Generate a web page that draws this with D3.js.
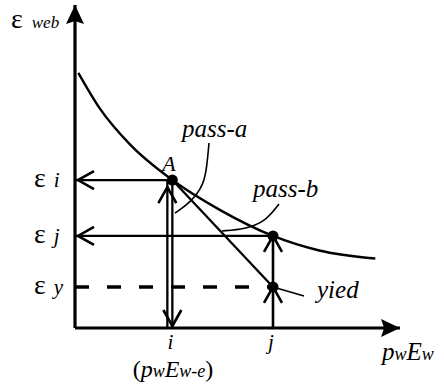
<!DOCTYPE html>
<html>
<head>
<meta charset="utf-8">
<script src="https://cdn.jsdelivr.net/npm/d3@7"></script>
<style>
html, body { margin: 0; padding: 0; background: #fff; }
</style>
</head>
<body>
<div id="chart"></div>
<script>
// curve (epsilon_web vs pwEw) in data units
const curveX = [0.1, 0.75, 1.65, 2.95, 4.4, 6.0, 7.4, 9.1];
const curveY = [7.9, 6.8, 5.7, 4.58, 3.65, 2.85, 2.4, 2.15];

// named points
const pointNames = ["A", "j", "yied"];
const pointX = [2.95, 6.0, 6.0];
const pointY = [4.58, 2.85, 1.27];

// tick labels
const yTickLabels = ["i", "j", "y"];
const yTickValues = [4.58, 2.85, 1.27];
const xTickLabels = ["i", "j"];
const xTickValues = [2.95, 6.0];

const FONT = "Liberation Serif";

const svgWidth = 444;
const svgHeight = 384;

const svg = d3.select("#chart")
  .append("svg")
  .attr("width", svgWidth)
  .attr("height", svgHeight);

svg.append("rect").attr("width", svgWidth).attr("height", svgHeight).attr("fill", "#fff");

// scales
const x = d3.scaleLinear().domain([0, 10]).range([75, 405]);
const y = d3.scaleLinear().domain([0, 10]).range([328, 5]);

const defs = svg.append("defs");

// solid triangle for the axes
defs.append("marker")
  .attr("id", "tri")
  .attr("markerUnits", "userSpaceOnUse")
  .attr("viewBox", "-20 -10 22 20")
  .attr("markerWidth", 22).attr("markerHeight", 20)
  .attr("refX", 0).attr("refY", 0)
  .attr("orient", "auto")
  .append("path")
  .attr("d", "M0,0 L-19,-9 L-16,0 L-19,9 Z")
  .attr("fill", "#000");

// open chevrons, apex set back by `back` px
function chevron(id, back) {
  defs.append("marker")
    .attr("id", id)
    .attr("markerUnits", "userSpaceOnUse")
    .attr("viewBox", "-22 -12 34 24")
    .attr("markerWidth", 34).attr("markerHeight", 24)
    .attr("refX", back).attr("refY", 0)
    .attr("orient", "auto")
    .append("path")
    .attr("d", "M-16,-9 L0,0 L-16,9")
    .attr("fill", "none")
    .attr("stroke", "#000")
    .attr("stroke-width", 2.6);
}
chevron("chevH", 3);
chevron("chevUpA", 7);
chevron("chevDown", 2);
chevron("chevUp", 0);

const line = d3.line().x(d => x(d[0])).y(d => y(d[1]));

const pA = [pointX[0], pointY[0]];
const pJ = [pointX[1], pointY[1]];
const pY = [pointX[2], pointY[2]];

// dashed epsilon_y line
svg.append("path")
  .attr("d", line([[0, pY[1]], pY]))
  .attr("stroke", "#000").attr("stroke-width", 3.5)
  .attr("stroke-dasharray", "14,18")
  .attr("fill", "none");

// horizontal arrows to the y axis
[pA, pJ].forEach(p => {
  svg.append("path")
    .attr("d", line([p, [0, p[1]]]))
    .attr("stroke", "#000").attr("stroke-width", 2.3)
    .attr("fill", "none")
    .attr("marker-end", "url(#chevH)");
});

// double vertical at i
svg.append("line")
  .attr("x1", x(pA[0]) - 5).attr("y1", y(0))
  .attr("x2", x(pA[0]) - 5).attr("y2", y(pA[1]))
  .attr("stroke", "#000").attr("stroke-width", 2.3)
  .attr("marker-end", "url(#chevUpA)");
svg.append("path")
  .attr("d", line([pA, [pA[0], 0]]))
  .attr("stroke", "#000").attr("stroke-width", 2.3)
  .attr("fill", "none")
  .attr("marker-end", "url(#chevDown)");

// vertical at j, two upward stages
svg.append("path")
  .attr("d", line([[pY[0], 0], pY]))
  .attr("stroke", "#000").attr("stroke-width", 2.6)
  .attr("fill", "none")
  .attr("marker-end", "url(#chevUp)");
svg.append("path")
  .attr("d", line([pY, pJ]))
  .attr("stroke", "#000").attr("stroke-width", 2.6)
  .attr("fill", "none")
  .attr("marker-end", "url(#chevUp)");

// straight line A -> yied
svg.append("path")
  .attr("d", line([pA, pY]))
  .attr("stroke", "#000").attr("stroke-width", 2.3)
  .attr("fill", "none");

// curve
svg.append("path")
  .attr("d", d3.line().x(d => x(d[0])).y(d => y(d[1])).curve(d3.curveMonotoneX)(d3.zip(curveX, curveY)))
  .attr("stroke", "#000").attr("stroke-width", 2.4)
  .attr("fill", "none");

// axes
svg.append("path")
  .attr("d", line([[0, 0], [0, 10]]))
  .attr("stroke", "#000").attr("stroke-width", 3.2)
  .attr("marker-end", "url(#tri)");
svg.append("path")
  .attr("d", line([[0, 0], [9.85, 0]]))
  .attr("stroke", "#000").attr("stroke-width", 3.2)
  .attr("marker-end", "url(#tri)");

// points
svg.selectAll(".pt")
  .data(d3.zip(pointX, pointY))
  .enter().append("circle")
  .attr("class", "pt")
  .attr("cx", d => x(d[0])).attr("cy", d => y(d[1]))
  .attr("r", 5.5).attr("fill", "#000");

// leader lines
const curvy = d3.line().x(d => d[0]).y(d => d[1]).curve(d3.curveBasis);
const leaders = [
  [[209, 143], [207, 165], [204, 185], [190, 203], [175, 213]],
  [[279, 204], [265, 222], [245, 229], [222, 231]],
  [[304, 296], [273, 287]]
];
leaders.forEach(pts => {
  svg.append("path")
    .attr("d", curvy(pts))
    .attr("stroke", "#000").attr("stroke-width", 1.6)
    .attr("fill", "none");
});

// helper: serif text
function txt(px, py, size, italic) {
  return svg.append("text")
    .attr("x", px).attr("y", py)
    .attr("font-family", FONT)
    .attr("font-size", size)
    .attr("font-style", italic ? "italic" : "normal")
    .attr("fill", "#000");
}

// annotation labels
txt(x(pA[0]) - 10, y(pA[1]) - 9, 22, true).text(pointNames[0]);
txt(182, 137, 25, true).text("pass-a");
txt(253, 197, 25, true).text("pass-b");
txt(317, 298, 25, true).text(pointNames[2]);

// y axis title
const yt = txt(11, 28, 28, false);
yt.append("tspan").text("ε");
yt.append("tspan").attr("dx", 9).attr("font-size", 17).attr("font-style", "italic").text("web");

// y tick labels
yTickLabels.forEach((lab, k) => {
  const t = txt(34, y(yTickValues[k]) + 7, 28, false);
  t.append("tspan").text("ε");
  t.append("tspan").attr("dx", 8).attr("font-size", 21).attr("font-style", "italic").text(lab);
});

// x tick labels
xTickLabels.forEach((lab, k) => {
  txt(x(xTickValues[k]) - 2, 349, 21, true)
    .attr("text-anchor", "middle").text(lab);
});

const sub = txt(173, 377, 24, true).attr("text-anchor", "middle");
sub.append("tspan").attr("font-style", "normal").text("(");
sub.append("tspan").text("p");
sub.append("tspan").attr("font-size", 18).text("w");
sub.append("tspan").text("E");
sub.append("tspan").attr("font-size", 18).text("w-e");
sub.append("tspan").attr("font-style", "normal").text(")");

// x axis title
const xt = txt(382, 360, 25, true);
xt.append("tspan").text("p");
xt.append("tspan").attr("font-size", 18).text("w");
xt.append("tspan").text("E");
xt.append("tspan").attr("font-size", 18).text("w");
</script>
</body>
</html>
